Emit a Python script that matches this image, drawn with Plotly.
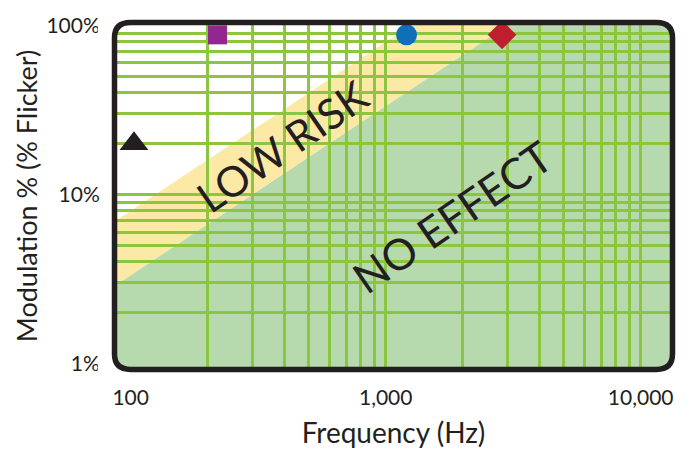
import plotly.graph_objects as go

# ---- data ----
no_effect_freq = [85, 3000]      # Hz  (boundary of "NO EFFECT" region)
no_effect_mod = [2.83, 100]      # %
low_risk_freq = [85, 1250]       # Hz  (boundary of "LOW RISK" region)
low_risk_mod = [6.8, 100]        # %

marker_freq = [103, 219, 1207, 2860]
marker_mod = [20, 88, 88, 88]
marker_symbols = ["triangle-up", "square", "circle", "diamond"]
marker_colors = ["#231f20", "#92278f", "#0f6fb8", "#be1e2d"]
marker_sizes = [25, 19, 21, 22]

x_tickvals = [100, 1000, 10000]
x_ticktext = ["100", "1,000", "10,000"]
y_tickvals = [1, 10, 100]
y_ticktext = ["1%", "10%", "100%"]

x_grid = [m * d for d in (100, 1000) for m in range(2, 10)] + [1000, 10000]
y_grid = [m * d for d in (1, 10) for m in range(2, 10)] + [10]

W, H = 689, 456
L, R, T, B = 117, 19, 22, 77
PW, PH = W - L - R, H - T - B

GREEN_FILL = "#b6d9ae"
YELLOW_FILL = "#fce9a6"
GRID = "#8cc63f"
INK = "#231f20"
FONT = "Lato"

fig = go.Figure()

fig.add_trace(go.Scatter(
    x=marker_freq, y=marker_mod, mode="markers",
    marker=dict(symbol=marker_symbols, color=marker_colors, size=marker_sizes,
                opacity=1, line=dict(width=0)),
    hoverinfo="skip", showlegend=False, cliponaxis=False,
))

# region fills (data coordinates on log axes), drawn below gridlines
x_lo, x_hi, y_lo, y_hi = 50, 50000, 0.3, 300
green_path = (f"M {x_lo} {y_lo} L {no_effect_freq[0]} {y_lo} L {no_effect_freq[0]} {no_effect_mod[0]} "
              f"L {no_effect_freq[1]} {no_effect_mod[1]} L {no_effect_freq[1]} {y_hi} "
              f"L {x_hi} {y_hi} L {x_hi} {y_lo} Z")
yellow_path = (f"M {low_risk_freq[0]} {no_effect_mod[0]} L {low_risk_freq[0]} {low_risk_mod[0]} "
               f"L {low_risk_freq[1]} {low_risk_mod[1]} L {low_risk_freq[1]} {y_hi} "
               f"L {no_effect_freq[1]} {y_hi} L {no_effect_freq[1]} {no_effect_mod[1]} Z")
shapes = [
    dict(type="path", xref="x", yref="y", path=yellow_path, fillcolor=YELLOW_FILL,
         line=dict(width=0), layer="below"),
    dict(type="path", xref="x", yref="y", path=green_path, fillcolor=GREEN_FILL,
         line=dict(width=0), layer="below"),
]

def px2x(px):
    return (px - L) / PW

def py2y(py):
    return (H - B - py) / PH

bx0, bx1 = px2x(114.5), px2x(672.5)
by0, by1 = py2y(381.5), py2y(19.5)
rad = 16
rx, ry = rad / PW, rad / PH
e = 0.03

def corner_masks():
    out = []
    out.append(f"M {bx0-e} {by0-e} L {bx0-e} {by0+ry} L {bx0} {by0+ry} Q {bx0} {by0} {bx0+rx} {by0} L {bx0+rx} {by0-e} Z")
    out.append(f"M {bx1+e} {by0-e} L {bx1+e} {by0+ry} L {bx1} {by0+ry} Q {bx1} {by0} {bx1-rx} {by0} L {bx1-rx} {by0-e} Z")
    out.append(f"M {bx0-e} {by1+e} L {bx0-e} {by1-ry} L {bx0} {by1-ry} Q {bx0} {by1} {bx0+rx} {by1} L {bx0+rx} {by1+e} Z")
    out.append(f"M {bx1+e} {by1+e} L {bx1+e} {by1-ry} L {bx1} {by1-ry} Q {bx1} {by1} {bx1-rx} {by1} L {bx1-rx} {by1+e} Z")
    return out

for p in corner_masks():
    shapes.append(dict(type="path", xref="paper", yref="paper", path=p,
                       fillcolor="white", line=dict(width=0), layer="above"))

frame = (f"M {bx0+rx} {by0} L {bx1-rx} {by0} Q {bx1} {by0} {bx1} {by0+ry} "
         f"L {bx1} {by1-ry} Q {bx1} {by1} {bx1-rx} {by1} "
         f"L {bx0+rx} {by1} Q {bx0} {by1} {bx0} {by1-ry} "
         f"L {bx0} {by0+ry} Q {bx0} {by0} {bx0+rx} {by0} Z")
shapes.append(dict(type="path", xref="paper", yref="paper", path=frame,
                   line=dict(color=INK, width=5.5), fillcolor="rgba(0,0,0,0)", layer="above"))

annotations = [
    dict(text="LOW RISK", x=px2x(282), y=py2y(148), xref="paper", yref="paper",
         xanchor="center", yanchor="middle",
         showarrow=False, textangle=-34.6, font=dict(family=FONT, size=42, color=INK)),
    dict(text="NO EFFECT", x=px2x(452), y=py2y(222), xref="paper", yref="paper",
         xanchor="center", yanchor="middle",
         showarrow=False, textangle=-34.6, font=dict(family=FONT, size=43, color=INK)),
]

fig.update_layout(
    width=W, height=H,
    margin=dict(l=L, r=R, t=T, b=B, pad=0),
    paper_bgcolor="white", plot_bgcolor="white",
    shapes=shapes, annotations=annotations,
    showlegend=False,
    font=dict(family=FONT, color=INK),
)

fig.update_xaxes(
    type="log", range=[1.9463, 4.1149],
    tickvals=x_tickvals, ticktext=x_ticktext,
    tickfont=dict(size=21, color=INK, family=FONT),
    ticks="outside", ticklen=12, tickcolor="rgba(0,0,0,0)",
    showgrid=False, zeroline=False, showline=False,
    minor=dict(tickvals=x_grid, showgrid=True, gridcolor=GRID, gridwidth=3, ticks=""),
    title=dict(text="Frequency (Hz)", font=dict(size=28, color=INK, family=FONT), standoff=15),
    fixedrange=True,
)
fig.update_yaxes(
    type="log", range=[-0.0198, 2.0028],
    tickvals=y_tickvals, ticktext=y_ticktext,
    tickfont=dict(size=21, color=INK, family=FONT),
    ticks="outside", ticklen=12, tickcolor="rgba(0,0,0,0)",
    showgrid=False, zeroline=False, showline=False,
    minor=dict(tickvals=y_grid, showgrid=True, gridcolor=GRID, gridwidth=3, ticks=""),
    title=dict(text="Modulation % (% Flicker)", font=dict(size=27, color=INK, family=FONT), standoff=0),
    fixedrange=True,
)

fig.write_html("out.html", config=dict(displayModeBar=False),
               post_script="document.body.style.margin='0';document.body.style.overflow='hidden';")
